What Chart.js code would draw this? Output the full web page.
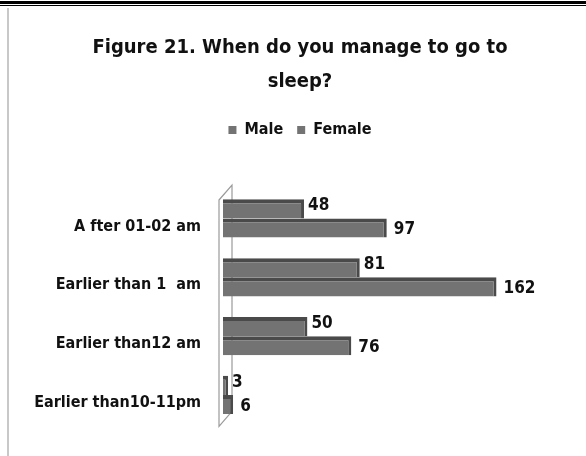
<!DOCTYPE html>
<html>
<head>
<meta charset="utf-8">
<script src="https://cdn.jsdelivr.net/npm/chart.js@4.4.0/dist/chart.umd.min.js"></script>
<style>
  html, body { margin: 0; padding: 0; background: #fff; }
  #wrap { width: 586px; height: 456px; position: relative; }
</style>
</head>
<body>
<div id="wrap"><canvas id="sleepChart" width="586" height="456"></canvas></div>
<script>
// data
let categories = ["A fter 01-02 am", "Earlier than 1  am", "Earlier than12 am", "Earlier than10-11pm"];
let maleValues = [48, 81, 50, 3];
let femaleValues = [97, 162, 76, 6];
let seriesNames = ["Male", "Female"];

let FONT = "'DejaVu Sans Condensed', Lato, sans-serif";

// page frame: double rule on top, grey box edge on the left
let framePlugin = {
  id: "frame",
  beforeDraw: function (chart) {
    let c = chart.ctx;
    c.save();
    c.fillStyle = "#fff";
    c.fillRect(0, 0, chart.width, chart.height);
    c.fillStyle = "#000";
    c.fillRect(0, 1, chart.width, 3);
    c.fillRect(0, 5, chart.width, 1);
    c.fillStyle = "#c8c8c8";
    c.fillRect(7, 8, 2, chart.height - 8);
    c.restore();
  }
};

// the thin 3d "wall" behind the bars
let wallPlugin = {
  id: "wall",
  beforeDatasetsDraw: function (chart) {
    let a = chart.chartArea;
    let c = chart.ctx;
    let x0 = a.left - 4, x1 = a.left + 9;
    c.save();
    c.strokeStyle = "#9a9a9a";
    c.lineWidth = 1.2;
    c.beginPath();
    c.moveTo(x0, a.top + 11);
    c.lineTo(x1, a.top - 4);
    c.lineTo(x1, a.bottom - 13);
    c.lineTo(x0, a.bottom + 2);
    c.closePath();
    c.stroke();
    c.restore();
  }
};

// value labels next to the bar ends
let valuePlugin = {
  id: "values",
  afterDatasetsDraw: function (chart) {
    let c = chart.ctx;
    c.save();
    c.font = "bold 17px " + FONT;
    c.fillStyle = "#111";
    c.textAlign = "left";
    c.textBaseline = "middle";
    chart.data.datasets.forEach(function (ds, di) {
      let meta = chart.getDatasetMeta(di);
      meta.data.forEach(function (bar, i) {
        let dx = di == 0 ? 4 : 7;
        let dy = di == 0 ? -3 : 2;
        c.fillText(String(ds.data[i]), bar.x + dx, bar.y + dy);
      });
    });
    c.restore();
  }
};

let ctx = document.getElementById("sleepChart");
let chart = new Chart(ctx, {
  type: "bar",
  data: {
    labels: categories,
    datasets: [{
      label: seriesNames[0],
      data: maleValues,
      backgroundColor: "#737373",
      borderColor: "#4a4a4a",
      borderWidth: { top: 4, right: 3, bottom: 0, left: 0 },
      categoryPercentage: 0.65,
      barPercentage: 1.0
    }, {
      label: seriesNames[1],
      data: femaleValues,
      backgroundColor: "#737373",
      borderColor: "#4a4a4a",
      borderWidth: { top: 4, right: 3, bottom: 0, left: 0 },
      categoryPercentage: 0.65,
      barPercentage: 1.0
    }]
  },
  options: {
    indexAxis: "y",
    responsive: false,
    animation: false,
    layout: { padding: { left: 14, right: 0, top: 10, bottom: 28 } },
    plugins: {
      title: {
        display: true,
        text: ["Figure 21. When do you manage to go to", "sleep?"],
        color: "#111",
        font: { family: FONT, size: 20, weight: "bold", lineHeight: 1.7 },
        padding: { top: 21, bottom: 9 }
      },
      legend: {
        display: true,
        position: "top",
        labels: {
          color: "#111",
          boxWidth: 8,
          boxHeight: 8,
          padding: 14,
          font: { family: FONT, size: 16, weight: "bold" },
          generateLabels: function (chart) {
            let items = Chart.defaults.plugins.legend.labels.generateLabels(chart);
            items.forEach(function (it) { it.lineWidth = 0; it.fillStyle = "#737373"; });
            return items;
          }
        }
      },
      tooltip: { enabled: false }
    },
    scales: {
      x: {
        position: "top",
        min: 0,
        max: 215,
        grid: { display: false },
        border: { display: false },
        ticks: { display: false },
        afterFit: function (scale) { scale.height = 41; }
      },
      y: {
        grid: { display: false, drawTicks: false },
        border: { display: false },
        ticks: {
          color: "#111",
          padding: 22,
          labelOffset: 8,
          font: { family: FONT, size: 16, weight: "bold" }
        },
        afterFit: function (scale) { scale.width = 209; }
      }
    }
  },
  plugins: [framePlugin, wallPlugin, valuePlugin]
});
</script>
</body>
</html>
